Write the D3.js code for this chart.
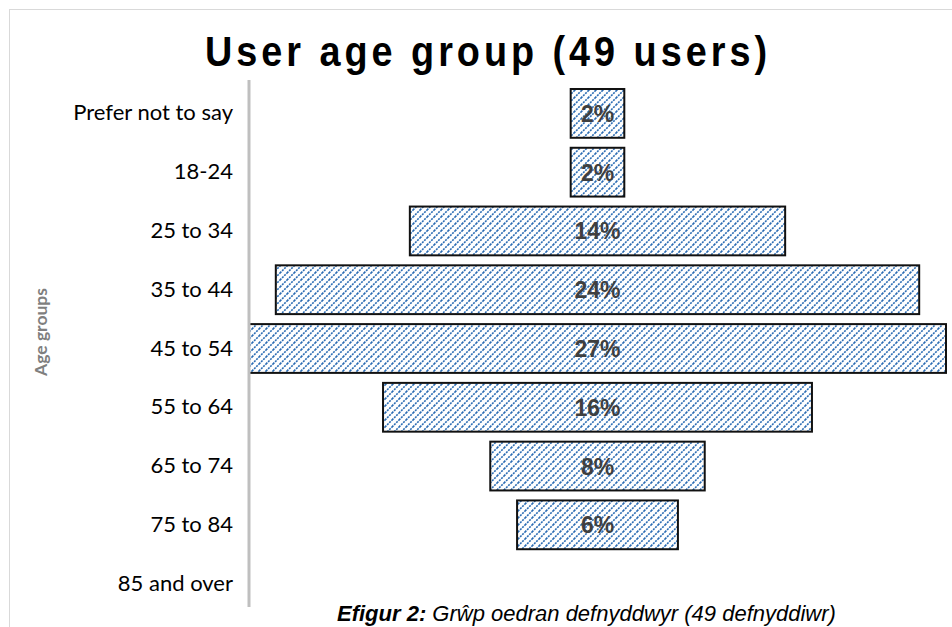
<!DOCTYPE html>
<html>
<head>
<meta charset="utf-8">
<script src="https://cdn.jsdelivr.net/npm/d3@7"></script>
<style>
  html, body { margin: 0; padding: 0; background: #fff; overflow: hidden; }
  svg { display: block; }
</style>
</head>
<body>
<svg id="chart" width="952" height="627"></svg>
<script>
// ---- data ----
const categories = ["Prefer not to say", "18-24", "25 to 34", "35 to 44", "45 to 54", "55 to 64", "65 to 74", "75 to 84", "85 and over"];
const counts = [1, 1, 7, 12, 13, 8, 4, 3, 0];
const totalUsers = 49;
const titleText = "User age group (49 users)";
const yAxisTitle = "Age groups";

const shares = counts.map(c => c / totalUsers);

const svg = d3.select("#chart");
const W = 952, H = 627;

// frame
svg.append("rect").attr("x", 9.5).attr("y", 9.5).attr("width", W + 20).attr("height", H + 20)
  .attr("fill", "#fff").attr("stroke", "#d9d9d9").attr("stroke-width", 1);

// hatch pattern
const defs = svg.append("defs");
const T = 7;
const pat = defs.append("pattern").attr("id", "hatch")
  .attr("patternUnits", "userSpaceOnUse").attr("width", T).attr("height", T);
pat.append("rect").attr("width", T).attr("height", T).attr("fill", "#fff");
pat.append("path").attr("d", `M-1,1 l2,-2 M0,${T} l${T},-${T} M${T-1},${T+1} l2,-2`)
  .attr("stroke", "#2a6bb3").attr("stroke-width", 1.6).attr("stroke-dasharray", "2,1");

// scales
const cx = 597.5;
const x = d3.scaleLinear().domain([0, d3.max(shares)]).range([0, 697]);
const y = d3.scaleBand().domain(categories).range([84, 613]).paddingInner(0.17).paddingOuter(0.085);

// title (condensed glyphs, wide spacing)
const sx = 0.9;
svg.append("g").attr("transform", `translate(486,66) scale(${sx},1)`)
  .append("text").attr("x", 0).attr("y", 0).attr("text-anchor", "middle")
  .attr("font-family", "Liberation Sans, Arial, sans-serif").attr("font-weight", "bold")
  .attr("font-size", 42).attr("textLength", 562 / sx).attr("lengthAdjust", "spacing")
  .attr("fill", "#000").text(titleText);

// bars
const bars = svg.append("g");
categories.forEach((c, i) => {
  if (shares[i] <= 0) return;
  const w = x(shares[i]);
  bars.append("rect")
    .attr("x", cx - w / 2).attr("y", y(c))
    .attr("width", w).attr("height", y.bandwidth())
    .attr("fill", "url(#hatch)").attr("stroke", "#111").attr("stroke-width", 2);
});

// axis line
svg.append("line").attr("x1", 249).attr("x2", 249).attr("y1", 80).attr("y2", 607)
  .attr("stroke", "#bfbfbf").attr("stroke-width", 3);

// category labels via axis
const yAxis = d3.axisLeft(y).tickSize(0).tickPadding(0);
const gAx = svg.append("g").attr("transform", "translate(233,0)").call(yAxis);
gAx.select(".domain").remove();
gAx.selectAll("text").attr("font-family", "Lato, Carlito, sans-serif").attr("font-size", 22)
  .attr("fill", "#000");

// value labels
categories.forEach((c, i) => {
  if (shares[i] <= 0) return;
  svg.append("text").attr("x", cx).attr("y", y(c) + y.bandwidth() / 2 + 8.5)
    .attr("text-anchor", "middle")
    .attr("font-family", "Liberation Sans, Arial, sans-serif").attr("font-weight", "bold")
    .attr("font-size", 23).attr("fill", "#3f3f3f")
    .text(Math.round(shares[i] * 100) + "%");
});

// y axis title
svg.append("text").attr("transform", "translate(47,332) rotate(-90)")
  .attr("text-anchor", "middle").attr("font-family", "Lato, Carlito, sans-serif")
  .attr("font-weight", "bold").attr("font-size", 17.5).attr("fill", "#7f7f7f").text(yAxisTitle);

// caption
const cap = svg.append("text").attr("x", 337).attr("y", 621)
  .attr("font-family", "Liberation Sans, Arial, sans-serif").attr("font-size", 22)
  .attr("font-style", "italic").attr("fill", "#000");
cap.append("tspan").attr("font-weight", "bold").text("Efigur 2:");
cap.append("tspan").text(" Grŵp oedran defnyddwyr (49 defnyddiwr)");
</script>
</body>
</html>
